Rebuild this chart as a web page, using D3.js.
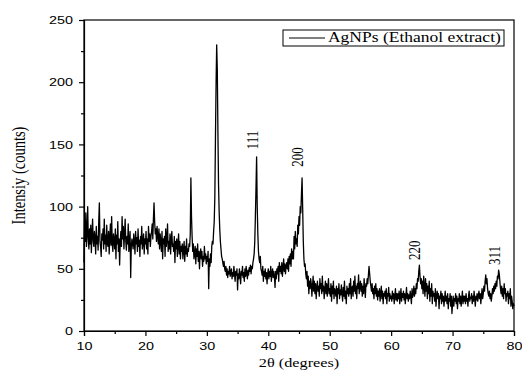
<!DOCTYPE html>
<html>
<head>
<meta charset="utf-8">
<script src="https://cdn.jsdelivr.net/npm/d3@7"></script>
<style>
  body { margin: 0; background: #fff; }
  svg { display: block; }
</style>
</head>
<body>
<div id="chart"></div>
<script>
// scan: 10.0 -> 80.0 deg 2theta, 0.1 deg step, one row per degree
const thetaStart = 10;
const thetaStep = 0.1;
const intensity = [
  55, 88, 72, 95, 68, 78, 100, 74, 66, 82,
  70, 85, 63, 78, 90, 72, 68, 80, 75, 62,
  84, 70, 76, 65, 88, 103, 72, 68, 60, 78,
  73, 82, 66, 90, 70, 77, 64, 85, 71, 68,
  80, 62, 75, 86, 69, 92, 70, 64, 78, 73,
  66, 82, 58, 77, 70, 88, 64, 74, 53, 72,
  80, 68, 92, 74, 84, 66, 78, 90, 72, 65,
  76, 70, 86, 64, 72, 80, 43, 68, 74, 70,
  66, 78, 72, 62, 80, 70, 75, 64, 82, 68,
  73, 60, 76, 70, 84, 66, 72, 78, 62, 74,
  70, 80, 66, 74, 62, 84, 72, 78, 68, 76,
  80, 86, 74, 90, 103, 88, 78, 82, 72, 84,
  76, 70, 82, 66, 78, 72, 64, 80, 58, 74,
  70, 76, 60, 82, 68, 74, 86, 64, 72, 66,
  78, 62, 74, 80, 68, 70, 64, 76, 55, 72,
  66, 74, 60, 70, 78, 62, 72, 58, 68, 64,
  70, 58, 66, 72, 56, 68, 62, 74, 60, 66,
  64, 70, 68, 78, 123, 92, 76, 64, 70, 58,
  62, 68, 54, 66, 60, 70, 56, 64, 50, 62,
  66, 58, 64, 52, 60, 56, 68, 58, 62, 54,
  60, 56, 64, 34, 58, 52, 62, 55, 68, 72,
  70, 80, 88, 108, 155, 198, 230, 210, 160, 118,
  96, 82, 72, 66, 60, 58, 55, 52, 56, 50,
  48, 52, 45, 50, 43, 48, 46, 52, 44, 47,
  50, 42, 47, 44, 52, 46, 40, 48, 45, 50,
  33, 46, 42, 50, 44, 38, 48, 45, 52, 43,
  47, 40, 50, 44, 52, 46, 42, 49, 45, 51,
  48, 53, 46, 52, 50, 55, 58, 62, 72, 92,
  115, 140, 100, 78, 64, 58, 55, 60, 50, 48,
  45, 52, 40, 48, 44, 50, 42, 47, 38, 46,
  50, 42, 48, 44, 52, 40, 46, 50, 43, 48,
  44, 35, 48, 42, 50, 46, 52, 40, 55, 48,
  52, 46, 55, 44, 50, 58, 48, 54, 46, 52,
  55, 50, 58, 48, 60, 54, 62, 52, 66, 58,
  64, 58, 76, 66, 80, 70, 74, 68, 85, 78,
  92, 85, 100, 95, 110, 123, 98, 72, 58, 52,
  54, 46, 42, 48, 36, 44, 30, 40, 34, 42,
  38, 28, 36, 44, 32, 40, 30, 38, 26, 35,
  40, 32, 36, 28, 42, 34, 38, 30, 44, 32,
  36, 26, 34, 40, 30, 38, 28, 35, 42, 30,
  34, 28, 38, 24, 36, 30, 40, 26, 34, 32,
  28, 36, 22, 34, 30, 38, 26, 33, 29, 37,
  30, 24, 35, 28, 40, 26, 32, 22, 36, 30,
  34, 28, 38, 30, 42, 26, 34, 36, 28, 40,
  32, 44, 30, 36, 26, 38, 34, 45, 30, 36,
  40, 32, 38, 28, 36, 30, 42, 34, 27, 38,
  36, 42, 38, 45, 52, 46, 40, 36, 32, 38,
  30, 34, 26, 36, 30, 38, 28, 34, 25, 32,
  28, 34, 24, 30, 36, 26, 32, 22, 30, 28,
  32, 26, 34, 22, 30, 28, 35, 24, 30, 26,
  28, 24, 32, 26, 30, 22, 28, 34, 25, 30,
  24, 30, 26, 32, 22, 28, 34, 24, 30, 27,
  32, 25, 30, 22, 28, 35, 26, 30, 24, 29,
  26, 32, 28, 22, 34, 27, 30, 36, 28, 34,
  30, 38, 34, 42, 40, 48, 53, 44, 38, 42,
  34, 40, 30, 44, 36, 28, 42, 32, 38, 26,
  36, 30, 40, 24, 34, 28, 38, 22, 32, 28,
  30, 24, 34, 20, 28, 32, 26, 30, 18, 28,
  26, 32, 22, 30, 24, 28, 20, 26, 32, 24,
  28, 22, 30, 18, 26, 24, 30, 20, 28, 14,
  22, 28, 20, 26, 24, 30, 22, 28, 18, 26,
  24, 30, 22, 28, 20, 26, 32, 22, 28, 24,
  28, 22, 30, 24, 26, 20, 28, 32, 24, 27,
  26, 30, 22, 28, 24, 32, 26, 20, 28, 25,
  30, 24, 28, 32, 26, 30, 22, 28, 34, 26,
  30, 36, 32, 40, 45, 38, 42, 34, 30, 28,
  32, 26, 30, 24, 28, 34, 30, 36, 32, 38,
  34, 40, 36, 44, 42, 49, 46, 40, 34, 30,
  36, 28, 34, 26, 38, 30, 34, 24, 30, 28,
  32, 22, 30, 26, 34, 20, 28, 24, 18, 22,
  20
];

const xTicks = [10, 20, 30, 40, 50, 60, 70, 80];
const xMinorTicks = [15, 25, 35, 45, 55, 65, 75];
const yTicks = [0, 50, 100, 150, 200, 250];
const yMinorTicks = [25, 75, 125, 175, 225];

const peakNames = ["111", "200", "220", "311"];
const peakTheta = [38.2, 45.5, 64.6, 77.6];
const peakLabelLevel = [146, 132, 57, 53];

const seriesName = "AgNPs (Ethanol extract)";

const W = 522, H = 379;
const margin = { top: 20, right: 8, bottom: 48, left: 84 };
const stretch = 1.25; // glyphs in the source are widened horizontally

const svg = d3.select("#chart").append("svg")
  .attr("width", W)
  .attr("height", H);

const x = d3.scaleLinear().domain([10, 80]).range([margin.left, W - margin.right]);
const y = d3.scaleLinear().domain([0, 250]).range([H - margin.bottom, margin.top]);

const points = intensity.map((v, i) => [thetaStart + i * thetaStep, v]);

const line = d3.line()
  .x(d => x(d[0]))
  .y(d => y(d[1]));

svg.append("path")
  .datum(points)
  .attr("fill", "none")
  .attr("stroke", "#000")
  .attr("stroke-width", 1.3)
  .attr("stroke-linejoin", "round")
  .attr("d", line);

// frame
svg.append("rect")
  .attr("x", x(10))
  .attr("y", y(250))
  .attr("width", x(80) - x(10))
  .attr("height", y(0) - y(250))
  .attr("fill", "none")
  .attr("stroke", "#000")
  .attr("stroke-width", 1.2);

const tickFont = "'Liberation Sans', Arial, sans-serif";
const serif = "'Liberation Serif', 'Times New Roman', serif";

// x axis
const gx = svg.append("g")
  .attr("transform", `translate(0,${y(0)})`)
  .call(d3.axisBottom(x).tickValues(xTicks).tickSize(5).tickPadding(6).tickFormat(d3.format("d")));
svg.append("g")
  .attr("transform", `translate(0,${y(0)})`)
  .call(d3.axisBottom(x).tickValues(xMinorTicks).tickSize(3).tickFormat(""))
  .call(g => g.select(".domain").remove());

// y axis
const gy = svg.append("g")
  .attr("transform", `translate(${x(10)},0)`)
  .call(d3.axisLeft(y).tickValues(yTicks).tickSize(5).tickPadding(6).tickFormat(d3.format("d")));
svg.append("g")
  .attr("transform", `translate(${x(10)},0)`)
  .call(d3.axisLeft(y).tickValues(yMinorTicks).tickSize(3).tickFormat(""))
  .call(g => g.select(".domain").remove());

svg.selectAll(".tick line").attr("stroke", "#000").attr("stroke-width", 1.2);
svg.selectAll(".domain").attr("stroke", "#000").attr("stroke-width", 1.2);

gx.selectAll("text")
  .attr("font-family", tickFont)
  .attr("font-size", 11.5)
  .attr("fill", "#000")
  .attr("transform", `scale(${stretch},1)`);
gy.selectAll("text")
  .attr("font-family", tickFont)
  .attr("font-size", 11.5)
  .attr("fill", "#000")
  .attr("x", -11 / stretch)
  .attr("transform", `scale(${stretch},1)`);

// axis titles
svg.append("text")
  .attr("transform", `translate(${(x(10) + x(80)) / 2},${H - 12}) scale(${stretch},1)`)
  .attr("text-anchor", "middle")
  .attr("font-family", serif)
  .attr("font-size", 13)
  .text("2θ (degrees)");

svg.append("text")
  .attr("transform", `translate(25,${(y(0) + y(250)) / 2}) scale(${stretch},1) rotate(-90)`)
  .attr("text-anchor", "middle")
  .attr("font-family", serif)
  .attr("font-size", 14.5)
  .text("Intensiy (counts)");

// peak labels
peakNames.forEach((name, i) => {
  svg.append("text")
    .attr("transform", `translate(${x(peakTheta[i]) + 1},${y(peakLabelLevel[i])}) scale(${stretch},1) rotate(-90)`)
    .attr("font-family", serif)
    .attr("font-size", 13)
    .text(name);
});

// legend
const lg = svg.append("g").attr("transform", "translate(283,30)");
lg.append("rect")
  .attr("width", 221).attr("height", 16)
  .attr("fill", "#fff").attr("stroke", "#000").attr("stroke-width", 1);
lg.append("line")
  .attr("x1", 6).attr("x2", 42).attr("y1", 8).attr("y2", 8)
  .attr("stroke", "#000").attr("stroke-width", 1);
lg.append("text")
  .attr("transform", `translate(45,11.5) scale(${stretch},1)`)
  .attr("font-family", serif)
  .attr("font-size", 14)
  .text(seriesName);
</script>
</body>
</html>
